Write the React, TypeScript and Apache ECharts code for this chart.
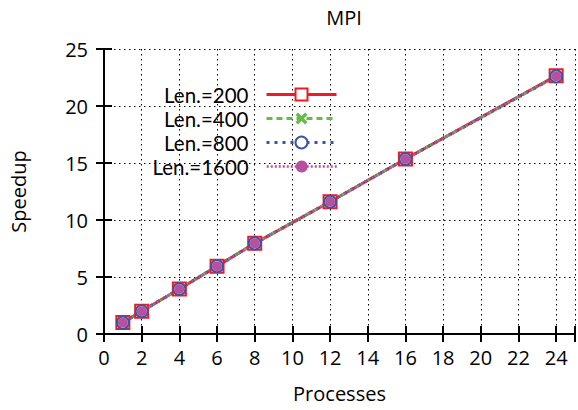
import React, { useEffect, useRef } from "react";
import * as echarts from "echarts";

const processes = [1, 2, 4, 6, 8, 12, 16, 24];
const len200 = [1.0, 2.0, 3.95, 5.95, 7.95, 11.6, 15.35, 22.65];
const len400 = [1.0, 2.0, 3.95, 5.95, 7.95, 11.6, 15.35, 22.6];
const len800 = [1.0, 2.0, 3.95, 5.95, 7.95, 11.6, 15.35, 22.6];
const len1600 = [1.0, 2.0, 3.95, 5.95, 7.95, 11.6, 15.35, 22.6];
const seriesNames = ["Len.=200", "Len.=400", "Len.=800", "Len.=1600"];
const xTicks = [0, 2, 4, 6, 8, 10, 12, 14, 16, 18, 20, 22, 24];

const FONT = "Open Sans";
const LEGEND_FONT = "Lato";
const RED = "#ec1c24";
const GREEN = "#66bd45";
const BLUE = "#3b55a5";
const MAGENTA = "#b94f9f";
const CROSS = "path://M0,2L2,0L5,3L8,0L10,2L7,5L10,8L8,10L5,7L2,10L0,8L3,5Z";

export default function App() {
  const ref = useRef<HTMLDivElement>(null);
  useEffect(() => {
    if (!ref.current) return;
    const chart = echarts.init(ref.current, null, { renderer: "svg" });
    const pts = (vals: number[]) => processes.map((p, i) => [p, vals[i]]);
    const legendRows = [94, 118, 142, 166];
    const legendLineWidths = [3, 3, 3, 2.5];
    const legends = seriesNames.map((n, i) => ({
      data: [n],
      right: 240,
      top: legendRows[i] - 10,
      padding: 0,
      align: "right",
      itemWidth: 70,
      itemHeight: 15,
      lineStyle: { width: legendLineWidths[i] },
      textStyle: {
        fontFamily: LEGEND_FONT,
        fontSize: 20.5,
        color: "#000",
        lineHeight: 20,
        padding: [0, 13, 0, 0],
      },
    }));
    const gridLine = { show: true, lineStyle: { color: "#000", type: [1.5, 3.5], width: 1 } };
    const axisLine = { show: true, lineStyle: { color: "#000", width: 2 } };
    const tick = { show: true, inside: true, length: 8, lineStyle: { color: "#000", width: 2 } };
    const labelFont = { fontFamily: FONT, fontSize: 20, color: "#000" };
    chart.setOption({
      animation: false,
      backgroundColor: "#fff",
      title: {
        text: "MPI",
        left: 339,
        top: 2,
        textAlign: "center",
        textStyle: { ...labelFont, fontWeight: "normal" },
      },
      legend: legends,
      grid: { left: 104, right: -3, top: 49, bottom: 76 },
      xAxis: [
        {
          type: "value",
          min: 0,
          max: 25,
          interval: 2,
          name: "Processes",
          nameLocation: "middle",
          nameGap: 49,
          nameTextStyle: labelFont,
          axisLine,
          axisTick: tick,
          splitLine: gridLine,
          axisLabel: {
            margin: 13,
            ...labelFont,
            formatter: (v: number) => (xTicks.includes(v) ? String(v) : ""),
          },
        },
        {
          type: "value",
          position: "top",
          min: 0,
          max: 25,
          interval: 2,
          axisLine,
          axisTick: tick,
          splitLine: { show: false },
          axisLabel: { show: false },
        },
      ],
      yAxis: [
        {
          type: "value",
          min: 0,
          max: 25,
          interval: 5,
          name: "Speedup",
          nameLocation: "middle",
          nameGap: 76,
          nameTextStyle: labelFont,
          axisLine,
          axisTick: tick,
          splitLine: gridLine,
          axisLabel: { margin: 16, ...labelFont },
        },
        {
          type: "value",
          position: "right",
          min: 0,
          max: 25,
          interval: 5,
          axisLine,
          axisTick: tick,
          splitLine: { show: false },
          axisLabel: { show: false },
        },
      ],
      series: [
        {
          name: seriesNames[0],
          type: "line",
          data: pts(len200),
          symbol: "emptyRect",
          symbolSize: 13,
          lineStyle: { color: RED, width: 3, type: "solid" },
          itemStyle: { color: RED, borderColor: RED, borderWidth: 3 },
        },
        {
          name: seriesNames[1],
          type: "line",
          data: pts(len400),
          symbol: CROSS,
          symbolSize: 12,
          lineStyle: { color: GREEN, width: 3, type: [6, 4] },
          itemStyle: { color: GREEN },
        },
        {
          name: seriesNames[2],
          type: "line",
          data: pts(len800),
          symbol: "emptyCircle",
          symbolSize: 12,
          lineStyle: { color: BLUE, width: 3, type: [3, 5] },
          itemStyle: { color: BLUE, borderColor: BLUE, borderWidth: 2.5 },
        },
        {
          name: seriesNames[3],
          type: "line",
          data: pts(len1600),
          symbol: "circle",
          symbolSize: 10,
          lineStyle: { color: MAGENTA, width: 2.5, type: [2, 2] },
          itemStyle: { color: MAGENTA },
        },
      ],
    });
    return () => chart.dispose();
  }, []);
  return (
    <div
      ref={ref}
      style={{ position: "fixed", left: 0, top: 0, width: 578, height: 410 }}
    />
  );
}
